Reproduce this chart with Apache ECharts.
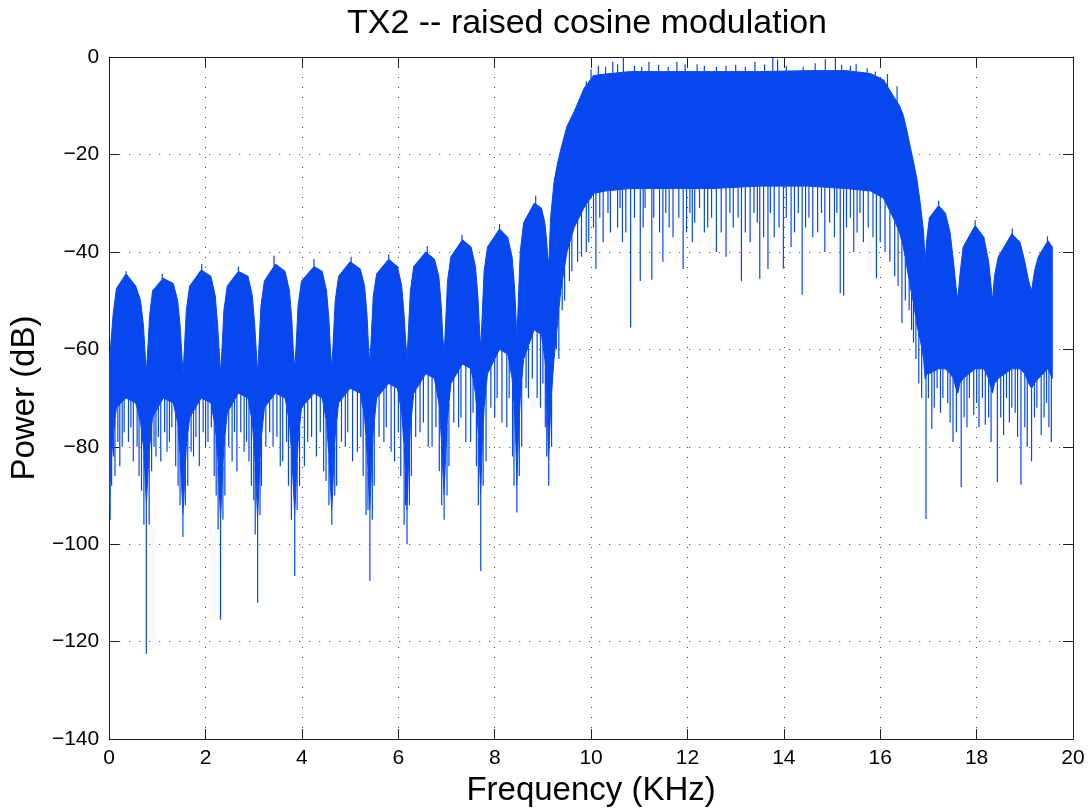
<!DOCTYPE html>
<html>
<head>
<meta charset="utf-8">
<script src="https://cdn.jsdelivr.net/npm/echarts@6/dist/echarts.min.js"></script>
<style>
html,body{margin:0;padding:0;background:#fff;}
#chart{width:1091px;height:812px;}
</style>
</head>
<body>
<div id="chart"></div>
<script>
// ---- Data (frequency in kHz, power in dB) ----
const chartTitle = 'TX2 -- raised cosine modulation';
const xName = 'Frequency (KHz)';
const yName = 'Power (dB)';

// Envelope of the dense spectrum trace: top edge and solid bottom edge
const freqKHz = [
  0, 0.04, 0.08, 0.15, 0.35, 0.55, 0.65, 0.71, 0.74,
  0.77, 0.80, 0.84, 0.90, 1.12, 1.33, 1.42, 1.47, 1.50,
  1.53, 1.56, 1.60, 1.67, 1.91, 2.11, 2.20, 2.25, 2.28,
  2.31, 2.34, 2.38, 2.45, 2.68, 2.88, 2.97, 3.02, 3.05,
  3.08, 3.11, 3.15, 3.22, 3.45, 3.65, 3.74, 3.79, 3.82,
  3.85, 3.88, 3.92, 3.99, 4.25, 4.42, 4.51, 4.56, 4.59,
  4.62, 4.65, 4.69, 4.76, 5.00, 5.21, 5.30, 5.35, 5.38,
  5.41, 5.44, 5.48, 5.55, 5.80, 5.98, 6.07, 6.12, 6.15,
  6.18, 6.21, 6.25, 6.32, 6.57, 6.75, 6.84, 6.89, 6.92,
  6.95, 6.98, 7.02, 7.09, 7.33, 7.51, 7.60, 7.65, 7.68,
  7.71, 7.74, 7.78, 7.85, 8.10, 8.27, 8.36, 8.41, 8.44,
  8.46, 8.49, 8.53, 8.60, 8.82, 8.97, 9.04, 9.08, 9.10,
  9.12, 9.16, 9.23, 9.30, 9.37, 9.50, 9.65, 9.85, 10.05,
  10.30, 10.80, 11.50, 12.50, 13.50, 14.50, 15.30, 15.80,
  16.07, 16.27, 16.40, 16.48, 16.55, 16.62, 16.70, 16.76, 16.83, 16.90,
  16.93, 16.97, 17.02, 17.21, 17.35, 17.45, 17.52, 17.57,
  17.61, 17.65, 17.72, 17.97, 18.15, 18.25, 18.30,
  18.33, 18.37, 18.45, 18.73, 18.90, 19.00, 19.08,
  19.14, 19.20, 19.28, 19.48, 19.57
];
const upperDb = [
  -64, -58, -53, -47.5, -44.5, -47, -50, -55, -60,
  -65, -60, -53, -48, -45.4, -46.5, -50, -55, -60,
  -65, -60, -52, -47, -43.7, -45, -49, -55, -60,
  -65, -60, -52, -47, -44, -45, -49, -55, -60,
  -65, -59, -51, -46, -42.5, -44, -48, -54, -60,
  -64, -59, -51, -46, -43, -44, -48, -54, -60,
  -64, -58, -50, -45, -42, -43.5, -47, -53, -59,
  -63, -57, -49, -44.5, -41.5, -43, -47, -53, -58,
  -62, -56, -48, -43, -40, -41.5, -45, -51, -57,
  -61, -55, -46, -41, -37.5, -39, -43, -49, -55,
  -60, -53, -44, -39, -35.3, -37, -41, -47, -53,
  -58, -50, -40, -34, -30, -31, -34, -38, -41,
  -43, -33, -25.7, -22, -19, -14.2, -11.2, -6.5, -3.8,
  -3.5, -3.0, -3.0, -3.0, -3.0, -2.8, -2.8, -3.4,
  -4.7, -8, -10, -12, -15, -18.3, -22, -25, -30, -36,
  -42, -37, -33, -30.5, -32, -36, -42, -47,
  -50, -45, -39, -34.6, -37, -42, -47,
  -50, -45, -41, -36.3, -38, -42, -46,
  -48, -44, -41, -37.7, -39
];
const lowerDb = [
  -92, -84, -78, -72, -70, -71, -75, -80, -85,
  -92, -86, -80, -74, -70, -71, -75, -82, -87,
  -94, -88, -80, -74, -70, -71, -76, -82, -88,
  -95, -88, -80, -73, -69, -70, -75, -82, -88,
  -95, -87, -79, -72, -69, -70, -75, -82, -88,
  -94, -87, -79, -72, -69, -70, -75, -82, -88,
  -93, -86, -78, -71, -68, -69, -74, -81, -87,
  -93, -85, -77, -70, -67, -68, -73, -80, -86,
  -93, -84, -76, -69, -65, -66, -71, -78, -84,
  -90, -82, -74, -67, -63, -64, -69, -76, -82,
  -90, -80, -72, -65, -60, -61, -66, -73, -80,
  -88, -78, -70, -62, -56, -57, -62, -70, -76,
  -83, -72, -62, -55, -48, -40, -35, -31, -28,
  -27.5, -27, -27, -27, -26.5, -26.5, -27, -27.5,
  -29, -33, -36, -39, -43, -47, -51, -55, -58, -62,
  -66, -65, -65, -64, -64, -65, -66, -68,
  -69, -67, -66, -64, -64, -66, -68,
  -69, -67, -66, -64, -64, -65, -67,
  -68, -67, -66, -64, -66
];

// Isolated downward spikes (notches) below the solid trace
const downSpikeKHz = [
  0.02, 0.05, 0.09, 0.12, 0.18, 0.22, 0.27, 0.31, 0.40, 0.45, 0.50, 0.58, 0.62, 0.67, 0.72,
  0.77, 0.83, 0.88, 0.93, 0.97, 1.02, 1.07, 1.15, 1.20, 1.25, 1.30, 1.38, 1.43, 1.47,
  1.53, 1.58, 1.63, 1.70, 1.75, 1.80, 1.87, 1.95, 2.00, 2.05, 2.12, 2.18, 2.22, 2.26,
  2.31, 2.36, 2.40, 2.48, 2.55, 2.60, 2.65, 2.73, 2.80, 2.85, 2.90, 2.95, 3.00, 3.03,
  3.08, 3.13, 3.16, 3.25, 3.33, 3.40, 3.48, 3.55, 3.60, 3.68, 3.72, 3.78,
  3.85, 3.90, 3.95, 4.05, 4.12, 4.20, 4.30, 4.38, 4.45, 4.50, 4.56,
  4.62, 4.68, 4.72, 4.82, 4.90, 4.95, 5.05, 5.15, 5.22, 5.27, 5.33, 5.37,
  5.41, 5.46, 5.50, 5.60, 5.70, 5.75, 5.85, 5.92, 6.00, 6.05, 6.12, 6.15,
  6.18, 6.23, 6.27, 6.36, 6.45, 6.52, 6.62, 6.70, 6.78, 6.85, 6.90,
  6.95, 7.01, 7.05, 7.15, 7.25, 7.30, 7.40, 7.50, 7.55, 7.62, 7.66,
  7.71, 7.76, 7.82, 7.92, 8.00, 8.05, 8.15, 8.25, 8.30, 8.37, 8.40,
  8.46, 8.51, 8.56, 8.65, 8.70, 8.78, 8.88, 8.95, 9.00, 9.05, 9.08,
  9.12, 9.18, 9.28, 9.33, 9.40, 9.45, 9.55, 9.60, 9.72, 9.80, 9.90, 9.95,
  10.05, 10.10, 10.18, 10.25, 10.35, 10.40, 10.55, 10.60, 10.65, 10.72, 10.82, 10.90,
  11.02, 11.08, 11.12, 11.26, 11.30, 11.42, 11.49, 11.55, 11.62, 11.70, 11.82, 11.91,
  11.98, 12.05, 12.10, 12.15, 12.25, 12.35, 12.42, 12.50, 12.60, 12.70, 12.80, 12.88,
  12.95, 13.05, 13.12, 13.20, 13.30, 13.38, 13.45, 13.50, 13.58, 13.67, 13.72, 13.80,
  13.90, 13.99, 14.05, 14.15, 14.22, 14.30, 14.38, 14.45, 14.52, 14.60, 14.70, 14.78,
  14.85, 14.95, 15.05, 15.10, 15.17, 15.24, 15.30, 15.38, 15.45, 15.52, 15.58, 15.65,
  15.75, 15.85, 15.92, 16.00, 16.10, 16.20, 16.30, 16.37, 16.45, 16.52, 16.60, 16.65,
  16.69, 16.74, 16.80, 16.86, 16.95, 17.00, 17.07, 17.12, 17.18, 17.25, 17.30, 17.40,
  17.45, 17.51, 17.58, 17.68, 17.74, 17.80, 17.85, 17.94, 18.00, 18.05, 18.12, 18.18,
  18.25, 18.30, 18.43, 18.50, 18.56, 18.62, 18.68, 18.73, 18.80, 18.85, 18.92, 19.00,
  19.05, 19.14, 19.20, 19.25, 19.34, 19.40, 19.45, 19.50, 19.55
];
const downSpikeDb = [
  -95, -88, -82, -86, -79, -84, -80, -77, -79, -76, -83, -80, -86, -89, -96,
  -122.5, -96, -85, -80, -82, -78, -83, -77, -81, -79, -76, -84, -88, -92,
  -98.5, -92, -88, -81, -82, -78, -84, -77, -80, -79, -76, -86, -90, -97,
  -115.5, -95, -90, -80, -83, -77, -85, -77, -81, -79, -83, -88, -91, -98,
  -112, -94, -88, -80, -77, -80, -78, -84, -83, -79, -88, -95,
  -106.5, -93, -88, -84, -79, -78, -82, -77, -85, -87, -92,
  -96, -90, -88, -79, -80, -77, -83, -81, -78, -86, -94, -93,
  -107.5, -95, -88, -78, -79, -76, -81, -83, -77, -86, -96, -92,
  -100, -92, -86, -78, -77, -75, -80, -80, -76, -85, -92,
  -95, -90, -84, -75, -76, -74, -79, -79, -73, -84, -92,
  -105.5, -88, -83, -72, -74, -70, -75, -76, -70, -82, -88,
  -93.5, -86, -80, -68, -70, -66, -70, -72, -67, -76, -82,
  -88, -80, -60, -62, -52, -50, -46, -44, -42, -41, -40, -38,
  -35, -43.5, -33, -38, -32, -36, -35, -31, -38, -36, -55.5, -33,
  -46, -35, -31, -45.7, -33, -36, -42, -32, -35, -37, -33, -43.5,
  -36, -32, -38, -34, -31, -36, -35, -33, -40, -36, -41, -32,
  -35, -33, -46, -36, -38, -32, -34, -45.5, -37, -43.5, -32, -37,
  -35, -43.4, -33, -39, -36, -32, -48.8, -35, -33, -37, -36, -32,
  -40, -34, -37, -32, -48.5, -49, -35, -33, -40, -36, -32, -38,
  -35, -37, -45.4, -38, -40, -42, -45, -47, -54.6, -50, -52, -56,
  -58.6, -62, -67, -70, -94.8, -70, -76.3, -72, -68, -73, -70, -71,
  -75, -79, -77, -88.3, -74, -76, -70, -73.5, -71, -76, -70, -75.5,
  -74, -79, -87.3, -74, -77.6, -70, -75, -72, -73, -78, -87.8, -76,
  -80, -83, -74, -72, -77.6, -74, -71, -76, -79
];

// Isolated upward spikes above the solid trace
const upSpikeKHz = [
  0.35, 1.10, 1.92, 2.68, 3.42, 4.25, 5.02, 5.80, 6.60, 7.32, 8.10, 8.85,
  9.90, 10.00, 10.15, 10.30, 10.45, 10.55, 10.67, 10.90, 11.05, 11.20, 11.40, 11.60,
  11.78, 11.95, 12.20, 12.35, 12.60, 12.80, 13.00, 13.20, 13.40, 13.60, 13.77, 13.87,
  14.05, 14.40, 14.65, 14.86, 15.07, 15.20, 15.38, 15.50, 15.73, 15.90, 16.15, 16.35,
  17.21, 17.97, 18.74, 19.47
];
const upSpikeDb = [
  -44, -44.5, -42.5, -43, -40.8, -41.5, -41, -40.5, -38.8, -36.5, -34.3, -28.5,
  -5, -2.5, -1.8, -2, -1, -1.5, 0, -1.8, -2, -1, -1.6, -2,
  -1, -1.5, -1.5, -1.8, -2, -1.8, -1.6, -2, -1, -1.5, 0, -0.5,
  -1.8, -2, -1.3, -0.4, 0, -1.6, -1.8, -1.4, -2.3, -3, -3.5, -6,
  -29.5, -33.5, -35.2, -36.8
];

// Axis ranges and ticks
const xMin = 0, xMax = 20, xStep = 2;
const yMin = -140, yMax = 0, yStep = 20;

// ---- Chart ----
const BLUE = '#0648ee';
const FONT = '"Liberation Sans", Arial, Helvetica, sans-serif';
const AXIS = '#1e1e1e';

function interp(arr, f) {
  if (f <= freqKHz[0]) return arr[0];
  for (let i = 0; i < freqKHz.length - 1; i++) {
    if (f >= freqKHz[i] && f <= freqKHz[i + 1]) {
      const t = (f - freqKHz[i]) / (freqKHz[i + 1] - freqKHz[i]);
      return arr[i] + t * (arr[i + 1] - arr[i]);
    }
  }
  return arr[arr.length - 1];
}

function spikeSeries(fs, vs, edgeArr) {
  return {
    type: 'custom',
    coordinateSystem: 'cartesian2d',
    clip: true,
    silent: true,
    data: fs.map((f, i) => [f, vs[i]]),
    renderItem: function (params, api) {
      const f = api.value(0), v = api.value(1);
      const p1 = api.coord([f, v]);
      const p2 = api.coord([f, interp(edgeArr, f)]);
      return {
        type: 'line',
        shape: { x1: p1[0], y1: p1[1], x2: p2[0], y2: p2[1] },
        style: { stroke: BLUE, lineWidth: 1.2 }
      };
    }
  };
}

const minus = v => String(v).replace('-', '\u2212');

const chart = echarts.init(document.getElementById('chart'), null, { renderer: 'canvas' });
chart.setOption({
  backgroundColor: '#fff',
  animation: false,
  title: {
    text: chartTitle,
    left: 582, top: 2, textAlign: 'center',
    textStyle: { fontFamily: FONT, fontSize: 34, fontWeight: 'normal', color: '#000' }
  },
  grid: { left: 108, right: 18, top: 57, bottom: 68, containLabel: false },
  xAxis: [{
    type: 'value', min: xMin, max: xMax, interval: xStep, position: 'bottom',
    name: xName, nameLocation: 'middle', nameGap: 31,
    nameTextStyle: { fontFamily: FONT, fontSize: 33, color: '#000' },
    axisLine: { show: true, onZero: false, lineStyle: { color: AXIS, width: 1 } },
    axisTick: { show: true, inside: true, length: 10, lineStyle: { color: AXIS } },
    axisLabel: { fontFamily: FONT, fontSize: 21, color: '#000', margin: 9, formatter: minus },
    splitLine: { show: true, lineStyle: { color: '#444', width: 1, type: [1, 9] } }
  }, {
    type: 'value', min: xMin, max: xMax, interval: xStep, position: 'top',
    axisLine: { show: true, onZero: false, lineStyle: { color: AXIS, width: 1 } },
    axisTick: { show: true, inside: true, length: 10, lineStyle: { color: AXIS } },
    axisLabel: { show: false }, splitLine: { show: false }
  }],
  yAxis: [{
    type: 'value', min: yMin, max: yMax, interval: yStep, position: 'left',
    name: yName, nameLocation: 'middle', nameGap: 63, nameRotate: 90,
    nameTextStyle: { fontFamily: FONT, fontSize: 33, color: '#000' },
    axisLine: { show: true, onZero: false, lineStyle: { color: AXIS, width: 1 } },
    axisTick: { show: true, inside: true, length: 10, lineStyle: { color: AXIS } },
    axisLabel: { fontFamily: FONT, fontSize: 21, color: '#000', margin: 10, formatter: minus },
    splitLine: { show: true, lineStyle: { color: '#444', width: 1, type: [1, 9] } }
  }, {
    type: 'value', min: yMin, max: yMax, interval: yStep, position: 'right',
    axisLine: { show: true, onZero: false, lineStyle: { color: AXIS, width: 1 } },
    axisTick: { show: true, inside: true, length: 10, lineStyle: { color: AXIS } },
    axisLabel: { show: false }, splitLine: { show: false }
  }],
  series: [
    {
      type: 'custom',
      coordinateSystem: 'cartesian2d',
      clip: true,
      silent: true,
      data: [[freqKHz[0], upperDb[0]]],
      renderItem: function (params, api) {
        const pts = [];
        for (let i = 0; i < freqKHz.length; i++) pts.push(api.coord([freqKHz[i], upperDb[i]]));
        for (let i = freqKHz.length - 1; i >= 0; i--) pts.push(api.coord([freqKHz[i], lowerDb[i]]));
        return {
          type: 'polygon',
          shape: { points: pts },
          style: { fill: BLUE, stroke: BLUE, lineWidth: 1 }
        };
      }
    },
    spikeSeries(downSpikeKHz, downSpikeDb, lowerDb),
    spikeSeries(upSpikeKHz, upSpikeDb, upperDb)
  ]
});
</script>
</body>
</html>
